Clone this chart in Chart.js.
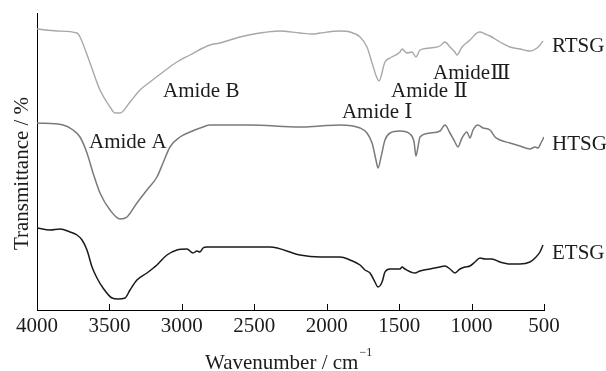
<!DOCTYPE html>
<html>
<head>
<meta charset="utf-8">
<script src="https://cdn.jsdelivr.net/npm/chart.js@4/dist/chart.umd.min.js"></script>
<style>
html,body{margin:0;padding:0;background:#fff;}
#wrap{width:606px;height:371px;position:relative;}
</style>
</head>
<body>
<div id="wrap"><canvas id="c" width="606" height="371"></canvas></div>
<script>
// ---- data (wavenumber in cm^-1, transmittance in arbitrary offset units) ----
const xTickValues = [4000, 3500, 3000, 2500, 2000, 1500, 1000, 500];
const seriesNames = ['RTSG', 'HTSG', 'ETSG'];
const annotationTexts = ['Amide B', 'Amide A', 'Amide \u2160', 'Amide \u2161', 'Amide\u2162'];
const xAxisTitle = 'Wavenumber / cm';
const xAxisTitleSup = '\u22121';
const yAxisTitle = 'Transmittance / %';

const rtsgWavenumber = [4000,3862,3724,3703,3634,3565,3496,3462,3427,3358,3289,3220,3130,3034,2944,2854,2806,2737,2599,2461,2323,2185,2095,2046,1908,1839,1770,1722,1687,1653,1639,1598,1563,1494,1480,1446,1411,1384,1356,1287,1218,1184,1149,1115,1101,1066,1011,963,942,907,873,804,735,666,597,548,528,507];
const rtsgTransmittance = [281,279,277,273,247,220,203,197,197,208,220,228,238,248,255,262,265,267,273,277,279,277,276,277,279,278,273,263,247,232,229,248,252,258,261,257,258,253,260,262,264,268,263,258,255,263,270,277,278,276,274,268,263,261,259,262,265,269];

const htsgWavenumber = [4000,3820,3751,3703,3655,3613,3565,3496,3427,3379,3310,3241,3172,3130,3082,3013,2944,2854,2806,2530,2185,2046,1908,1770,1722,1687,1660,1646,1625,1598,1563,1494,1425,1397,1384,1370,1356,1287,1218,1184,1149,1115,1094,1066,1032,1011,990,956,921,873,838,804,735,666,597,562,541,521,500];
const htsgTransmittance = [187,185,180,173,157,137,117,100,91,93,107,120,133,147,163,173,178,183,185,185,183,184,185,182,177,167,150,142,153,170,177,179,176,168,154,163,173,177,179,185,177,168,163,172,178,172,180,185,182,180,173,170,167,164,161,163,162,167,173];

const etsgWavenumber = [4000,3910,3841,3772,3724,3689,3655,3620,3586,3544,3482,3441,3392,3358,3310,3241,3172,3103,3034,2965,2923,2896,2875,2854,2826,2392,2185,2046,1908,1839,1770,1736,1701,1667,1646,1618,1598,1563,1494,1480,1460,1391,1356,1287,1218,1184,1149,1115,1080,1046,1011,976,942,907,859,804,735,666,597,562,528,507];
const etsgTransmittance = [82,80,81,78,75,70,60,43,32,22,12,11,12,20,30,37,45,55,60,61,57,59,58,62,63,63,55,53,53,50,45,40,37,28,23,28,38,41,41,43,41,37,39,41,43,44,41,37,41,43,44,48,52,51,51,48,46,46,48,52,58,65];

const toPoints = (xs, ys) => xs.map((x, i) => ({x: x, y: ys[i]}));

const FONT = "'Liberation Serif', 'DejaVu Serif', 'Noto Serif CJK SC', serif";
const TEXT_COLOR = '#1c1c1c';

// text placement (in data coordinates) for annotations and series labels
const decorations = {
  annotations: [
    {text: annotationTexts[0], x: 3130, y: 213},
    {text: annotationTexts[1], x: 3641, y: 162},
    {text: annotationTexts[2], x: 1895, y: 192},
    {text: annotationTexts[3], x: 1556, y: 213},
    {text: annotationTexts[4], x: 1266, y: 231}
  ],
  seriesLabels: [
    {text: seriesNames[0], y: 258},
    {text: seriesNames[1], y: 160},
    {text: seriesNames[2], y: 51}
  ]
};

const decorPlugin = {
  id: 'decor',
  afterDraw(chart) {
    const ctx = chart.ctx;
    const xs = chart.scales.x, ys = chart.scales.y;
    const area = chart.chartArea;
    ctx.save();
    // inward tick marks on x axis
    ctx.strokeStyle = '#000';
    ctx.lineWidth = 1;
    xs.ticks.forEach(t => {
      const px = Math.round(xs.getPixelForValue(t.value)) + 0.5;
      ctx.beginPath();
      ctx.moveTo(px, area.bottom);
      ctx.lineTo(px, area.bottom - 6);
      ctx.stroke();
    });
    ctx.fillStyle = TEXT_COLOR;
    ctx.font = '21px ' + FONT;
    ctx.textBaseline = 'alphabetic';
    ctx.textAlign = 'left';
    decorations.annotations.forEach(a => {
      ctx.fillText(a.text, xs.getPixelForValue(a.x), ys.getPixelForValue(a.y));
    });
    const lx = xs.getPixelForValue(500) + 8;
    decorations.seriesLabels.forEach(s => {
      ctx.fillText(s.text, lx, ys.getPixelForValue(s.y));
    });
    // x axis title with superscript
    const tx = 205, ty = 369;
    ctx.fillText(xAxisTitle, tx, ty);
    const w = ctx.measureText(xAxisTitle).width;
    ctx.font = '12px ' + FONT;
    ctx.fillText(xAxisTitleSup, tx + w + 1, ty - 13);
    // y axis title (rotated)
    ctx.font = '21px ' + FONT;
    ctx.translate(28, 173.5);
    ctx.rotate(-Math.PI / 2);
    ctx.textAlign = 'center';
    ctx.fillText(yAxisTitle, 0, 0);
    ctx.restore();
  }
};

new Chart(document.getElementById('c'), {
  type: 'line',
  data: {
    datasets: [
      {label: seriesNames[0], data: toPoints(rtsgWavenumber, rtsgTransmittance), borderColor: '#a8a8a8', borderWidth: 1.4},
      {label: seriesNames[1], data: toPoints(htsgWavenumber, htsgTransmittance), borderColor: '#7a7a7a', borderWidth: 1.5},
      {label: seriesNames[2], data: toPoints(etsgWavenumber, etsgTransmittance), borderColor: '#1a1a1a', borderWidth: 1.5}
    ]
  },
  options: {
    responsive: false,
    animation: false,
    devicePixelRatio: 1,
    elements: {
      point: {radius: 0, hoverRadius: 0},
      line: {cubicInterpolationMode: 'monotone', fill: false}
    },
    layout: {padding: {top: 13, right: 62, bottom: 0, left: 0}},
    plugins: {legend: {display: false}, tooltip: {enabled: false}},
    scales: {
      x: {
        type: 'linear',
        reverse: true,
        min: 500,
        max: 4000,
        afterBuildTicks(scale) { scale.ticks = xTickValues.map(v => ({value: v})); },
        afterFit(scale) { scale.height = 61; },
        ticks: {
          autoSkip: false,
          maxRotation: 0,
          padding: 4,
          color: TEXT_COLOR,
          font: {family: FONT, size: 21},
          callback: v => String(v)
        },
        grid: {display: false, drawTicks: false},
        border: {display: true, color: '#000', width: 1}
      },
      y: {
        min: 0,
        max: 297,
        afterFit(scale) { scale.width = 37; },
        ticks: {display: false},
        grid: {display: false, drawTicks: false},
        border: {display: true, color: '#000', width: 1}
      }
    }
  },
  plugins: [decorPlugin]
});
</script>
</body>
</html>
